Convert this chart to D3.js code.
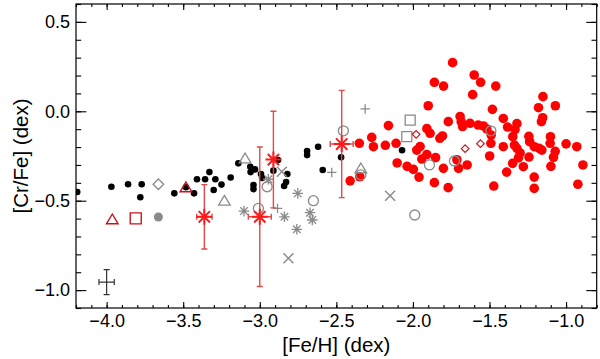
<!DOCTYPE html>
<html>
<head>
<meta charset="utf-8">
<script src="https://cdn.jsdelivr.net/npm/d3@7"></script>
<style>
  body { margin: 0; background: #fff; }
  svg { display: block; }
  text { font-family: "Liberation Sans", Arial, sans-serif; fill: #000; }
</style>
</head>
<body>
<div id="chart"></div>
<script>
// [Fe/H], [Cr/Fe] pairs
const redStars = [
  [-1.741, 0.272], [-1.60, 0.203], [-1.558, 0.162], [-1.86, 0.162], [-1.80, 0.141], [-1.459, 0.141],
  [-1.61, 0.093], [-1.90, 0.031], [-1.481, 0.011], [-1.151, 0.082], [-1.07, 0.031], [-1.18, 0.02],
  [-1.153, -0.036], [-1.161, -0.058], [-2.16, -0.08], [-1.769, -0.058], [-1.692, -0.029], [-1.685, -0.058],
  [-1.676, -0.085], [-1.627, -0.067], [-1.574, -0.077], [-1.54, -0.082], [-1.517, -0.099], [-1.489, -0.133],
  [-1.491, -0.179], [-1.499, -0.25], [-1.41, -0.04], [-1.382, -0.088], [-1.321, -0.069], [-1.333, -0.102],
  [-1.909, -0.097], [-1.888, -0.123], [-1.824, -0.151], [-1.807, -0.138], [-2.269, -0.146], [-2.258, -0.198],
  [-2.35, -0.179], [-2.18, -0.19], [-2.11, -0.179], [-1.953, -0.197], [-1.975, -0.217], [-2.103, -0.289],
  [-2.038, -0.308], [-1.997, -0.325], [-1.96, -0.368], [-1.86, -0.399], [-1.77, -0.427], [-1.909, -0.242],
  [-1.852, -0.259], [-1.942, -0.267], [-1.801, -0.319], [-1.702, -0.319], [-1.713, -0.271], [-1.646, -0.30],
  [-1.41, -0.198], [-1.472, -0.418], [-1.388, -0.34], [-1.349, -0.291], [-1.311, -0.261], [-1.30, -0.233],
  [-1.321, -0.207], [-1.348, -0.142], [-1.337, -0.189], [-1.279, -0.31], [-1.243, -0.14], [-1.238, -0.17],
  [-1.208, -0.198], [-1.176, -0.207], [-1.158, -0.217], [-1.242, -0.256], [-1.208, -0.368], [-1.208, -0.431],
  [-1.102, -0.142], [-1.104, -0.179], [-1.071, -0.224], [-1.082, -0.257], [-1.099, -0.308], [-1.00, -0.182],
  [-0.93, -0.198], [-0.89, -0.30], [-0.923, -0.408], [-2.41, -0.389], [-2.347, -0.366]
];

const blackStars = [
  [-4.192, -0.451], [-3.969, -0.422], [-3.86, -0.408], [-3.771, -0.408], [-3.78, -0.481], [-3.558, -0.459],
  [-3.482, -0.425], [-3.429, -0.459], [-3.41, -0.38], [-3.357, -0.38], [-3.329, -0.34], [-3.29, -0.38],
  [-3.301, -0.44], [-3.25, -0.41], [-3.19, -0.37], [-3.14, -0.291], [-3.062, -0.31], [-3.06, -0.34],
  [-3.031, -0.325], [-3.041, -0.412], [-3.041, -0.435], [-2.992, -0.351], [-2.985, -0.373], [-2.911, -0.332],
  [-2.82, -0.351], [-2.828, -0.396], [-2.841, -0.418], [-2.691, -0.222], [-2.691, -0.245], [-2.619, -0.198],
  [-2.589, -0.328], [-2.469, -0.257], [-2.071, -0.218], [-2.881, -0.272]
];

// literature samples (grey open symbols)
const greyCircles = [
  [-2.454, -0.109], [-2.34, -0.356], [-1.892, -0.30], [-1.729, -0.278], [-1.491, -0.109],
  [-1.988, -0.58], [-2.65, -0.50], [-3.009, -0.543], [-2.952, -0.422]
];
const greyTriangles = [[-3.096, -0.263], [-3.231, -0.50], [-2.34, -0.319]];
const greySquares = [[-2.018, -0.049], [-2.04, -0.142]];
const greyDiamonds = [[-3.662, -0.408]];
const greyCrosses = [[-2.149, -0.472], [-2.813, -0.822], [-2.856, -0.338]];
const greyPluses = [[-2.312, 0.013], [-2.53, -0.342], [-2.884, -0.543]];
const greyAsterisks = [
  [-3.103, -0.558], [-2.752, -0.459], [-2.839, -0.59], [-2.758, -0.66], [-2.672, -0.567],
  [-2.657, -0.608], [-2.944, -0.38]
];
const greyFilled = [[-3.662, -0.591]];

// dark red open symbols
const redTriangles = [[-3.963, -0.604], [-3.482, -0.425]];
const redSquares = [[-3.81, -0.599]];
const redDiamonds = [[-1.979, -0.129], [-1.659, -0.209], [-1.559, -0.181]];

// red asterisks with error bars: [feh, crfe, xerr, yerr]
const redErrStars = [
  [-3.362, -0.59, 0.05, 0.18],
  [-3.0, -0.59, 0.075, 0.39],
  [-2.911, -0.27, 0, 0.27],
  [-2.465, -0.183, 0.075, 0.30]
];

// typical error
const typicalError = [[-4.0, -0.955, 0.05, 0.07]];

const xTicks = [-4.0, -3.5, -3.0, -2.5, -2.0, -1.5, -1.0];
const yTicks = [-1.0, -0.5, 0.0, 0.5];

const width = 600;
const height = 359;
const margin = { top: 4, right: 3.3, bottom: 51, left: 76 };

const x = d3.scaleLinear()
    .domain([-4.2, -0.8])
    .range([margin.left, width - margin.right]);

const y = d3.scaleLinear()
    .domain([-1.1, 0.6])
    .range([height - margin.bottom, margin.top]);

const svg = d3.select("#chart").append("svg")
    .attr("width", width)
    .attr("height", height);

const plotW = width - margin.left - margin.right;
const plotH = height - margin.top - margin.bottom;

svg.append("defs").append("clipPath")
    .attr("id", "clip")
    .append("rect")
    .attr("x", margin.left)
    .attr("y", margin.top)
    .attr("width", plotW)
    .attr("height", plotH);

const plot = svg.append("g").attr("clip-path", "url(#clip)");

// marker shapes centred on 0,0
function markerPath(type, s) {
    const d = s * 0.707;
    switch (type) {
        case "triangle": return `M0,${-s}L${s * 1.1},${s * 0.85}L${-s * 1.1},${s * 0.85}Z`;
        case "square": return `M${-s},${-s}H${s}V${s}H${-s}Z`;
        case "diamond": return `M0,${-s}L${s},0L0,${s}L${-s},0Z`;
        case "cross": return `M${-s},${-s}L${s},${s}M${-s},${s}L${s},${-s}`;
        case "plus": return `M${-s},0H${s}M0,${-s}V${s}`;
        case "asterisk": return `M0,${-s}V${s}M${-s},0H${s}M${-d},${-d}L${d},${d}M${-d},${d}L${d},${-d}`;
    }
}

function drawMarkers(data, type, size, color, strokeWidth) {
    plot.append("g").selectAll("path")
        .data(data)
        .enter()
        .append("path")
        .attr("d", markerPath(type, size))
        .attr("transform", d => `translate(${x(d[0])},${y(d[1])})`)
        .attr("fill", "none")
        .attr("stroke", color)
        .attr("stroke-width", strokeWidth);
}

function drawCircles(data, r, fill, stroke) {
    plot.append("g").selectAll("circle")
        .data(data)
        .enter()
        .append("circle")
        .attr("cx", d => x(d[0]))
        .attr("cy", d => y(d[1]))
        .attr("r", r)
        .attr("fill", fill)
        .attr("stroke", stroke || "none")
        .attr("stroke-width", 1.3);
}

function drawErrors(data, color, cap, strokeWidth) {
    const g = plot.append("g")
        .attr("stroke", color)
        .attr("stroke-width", strokeWidth)
        .attr("fill", "none");
    data.forEach(d => {
        const cx = x(d[0]), cy = y(d[1]);
        if (d[3] > 0) {
            const y0 = y(d[1] - d[3]), y1 = y(d[1] + d[3]);
            g.append("path").attr("d", `M${cx},${y0}V${y1}M${cx - cap},${y0}H${cx + cap}M${cx - cap},${y1}H${cx + cap}`);
        }
        if (d[2] > 0) {
            const x0 = x(d[0] - d[2]), x1 = x(d[0] + d[2]);
            g.append("path").attr("d", `M${x0},${cy}H${x1}M${x0},${cy - cap}V${cy + cap}M${x1},${cy - cap}V${cy + cap}`);
        }
    });
}

const grey = "#8a8a8a";
const darkRed = "#c8141e";

drawCircles(redStars, 4.8, "#ff0000");
drawCircles(blackStars, 3.3, "#000");

drawCircles(greyCircles, 5, "none", grey);
drawMarkers(greyTriangles, "triangle", 5.3, grey, 1.3);
drawMarkers(greySquares, "square", 5, grey, 1.3);
drawMarkers(greyDiamonds, "diamond", 5.3, grey, 1.3);
drawMarkers(greyCrosses, "cross", 5, grey, 1.4);
drawMarkers(greyPluses, "plus", 4.7, grey, 1.3);
drawMarkers(greyAsterisks, "asterisk", 5.3, grey, 1.3);
drawCircles(greyFilled, 4.5, grey);

drawMarkers(redTriangles, "triangle", 5.3, darkRed, 1.4);
drawMarkers(redSquares, "square", 5.5, darkRed, 1.4);
drawMarkers(redDiamonds, "diamond", 3.8, darkRed, 1.2);

drawErrors(redErrStars, "#e04a4a", 3, 1.4);
drawMarkers(redErrStars, "asterisk", 8, "#ff1a1a", 2);

drawErrors(typicalError, "#333", 3, 1.2);

// axes: ticks point inward on all four sides
const xMinor = d3.range(-42, -7).map(v => v / 10);
const yMinor = d3.range(-11, 7).map(v => v / 10);
const fmt = d3.format(".1f");

function styleAxis(g) {
    g.select(".domain").remove();
    g.selectAll("line").attr("stroke", "#000").attr("stroke-width", 1.1);
}

const bottomY = height - margin.bottom;
const rightX = width - margin.right;

svg.append("g")
    .attr("transform", `translate(0,${bottomY})`)
    .call(d3.axisBottom(x).tickValues(xMinor).tickSize(-3).tickFormat(""))
    .call(styleAxis);
svg.append("g")
    .attr("transform", `translate(0,${bottomY})`)
    .call(d3.axisBottom(x).tickValues(xTicks).tickSize(-6).tickPadding(18).tickFormat(fmt))
    .call(styleAxis)
    .call(g => g.selectAll("text").attr("font-size", "18px").attr("dy", "0.05em"));
svg.append("g")
    .attr("transform", `translate(0,${margin.top})`)
    .call(d3.axisTop(x).tickValues(xMinor).tickSize(-3).tickFormat(""))
    .call(styleAxis);
svg.append("g")
    .attr("transform", `translate(0,${margin.top})`)
    .call(d3.axisTop(x).tickValues(xTicks).tickSize(-6).tickFormat(""))
    .call(styleAxis);

svg.append("g")
    .attr("transform", `translate(${margin.left},0)`)
    .call(d3.axisLeft(y).tickValues(yMinor).tickSize(-5.2).tickFormat(""))
    .call(styleAxis);
svg.append("g")
    .attr("transform", `translate(${margin.left},0)`)
    .call(d3.axisLeft(y).tickValues(yTicks).tickSize(-10.4).tickPadding(6).tickFormat(fmt))
    .call(styleAxis)
    .call(g => g.selectAll("text").attr("font-size", "18px"));
svg.append("g")
    .attr("transform", `translate(${rightX},0)`)
    .call(d3.axisRight(y).tickValues(yMinor).tickSize(-5.2).tickFormat(""))
    .call(styleAxis);
svg.append("g")
    .attr("transform", `translate(${rightX},0)`)
    .call(d3.axisRight(y).tickValues(yTicks).tickSize(-10.4).tickFormat(""))
    .call(styleAxis);

svg.selectAll(".tick text").attr("fill", "#000").style("font-family", "'Liberation Sans', Arial, sans-serif");

svg.append("rect")
    .attr("x", margin.left)
    .attr("y", margin.top)
    .attr("width", plotW)
    .attr("height", plotH)
    .attr("fill", "none")
    .attr("stroke", "#000")
    .attr("stroke-width", 1.2);

svg.append("text")
    .attr("x", (margin.left + rightX) / 2)
    .attr("y", 352)
    .attr("text-anchor", "middle")
    .attr("font-size", "20.5px")
    .text("[Fe/H] (dex)");

svg.append("text")
    .attr("transform", `translate(27.5,${(margin.top + bottomY) / 2}) rotate(-90)`)
    .attr("text-anchor", "middle")
    .attr("font-size", "20.5px")
    .text("[Cr/Fe] (dex)");
</script>
</body>
</html>
